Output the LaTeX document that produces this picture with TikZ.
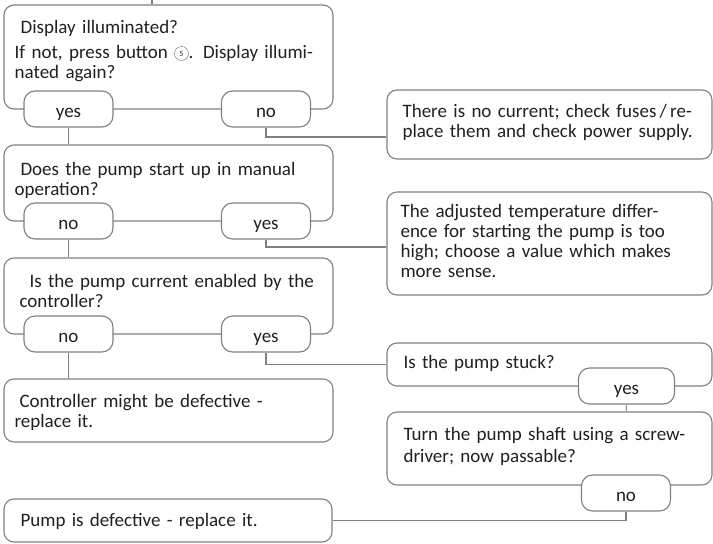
\documentclass[tikz,border=0pt]{standalone}
\usepackage{fontspec}
\setmainfont{Carlito}
\usepackage{xcolor}
\definecolor{linegray}{RGB}{128,128,128}
\definecolor{textblack}{RGB}{35,31,32}
\newcommand{\bodyfont}{\fontsize{19}{20}\selectfont}
\newcommand{\circnum}[1]{\tikz[baseline={([yshift=-2pt]cn.base)}]\node[circle,draw=linegray,line width=0.5pt,inner sep=0pt,minimum size=14pt,font=\fontsize{8}{8}\selectfont] (cn) {#1};}

\begin{document}
\begin{tikzpicture}[
  x=1pt, y=-1pt, line width=1.1pt, text=textblack,
  box/.style={draw=linegray,rounded corners=10pt,minimum width=329pt,inner sep=0pt},
  rbox/.style={box,minimum width=325pt},
  btn/.style={draw=linegray,fill=white,rounded corners=11pt,minimum width=89pt,minimum height=36pt,inner sep=0pt,text height=16pt,text depth=0pt,font=\bodyfont},
  txt/.style={anchor=base west,inner sep=0pt,text width=315pt,align=left,font=\bodyfont},
  wire/.style={draw=linegray}
]
  \useasboundingbox (0,0) rectangle (713,544);
  % boxes, left column
  \node[box,minimum height=104pt] (q1) at (168.5,57) {};
  \node[box,minimum height=76pt] (q2) at (168.5,183) {};
  \node[box,minimum height=76pt] (q3) at (168.5,296) {};
  \node[box,minimum height=63pt] (ctrl) at (168.5,410.5) {};
  \node[box,minimum height=43pt,minimum width=328pt] (pump) at (168,520.5) {};
  % boxes, right column
  \node[rbox,minimum height=69pt] (nocur) at (549.5,124.5) {};
  \node[rbox,minimum height=103pt] (tdiff) at (549.5,243.5) {};
  \node[rbox,minimum height=43pt] (stuck) at (549.5,364.5) {};
  \node[rbox,minimum height=73pt] (shaft) at (549.5,448.5) {};
  % texts
  \node[txt] (q1t) at (14.5,33) {\hspace*{6pt}Display illuminated?\\[5pt]
    \makebox[310pt][s]{If not, press button \circnum{5}. Display illumi-}\\nated again?};
  \node[txt] (q2t) at (14,175) {\hspace*{6pt}\makebox[295pt][s]{Does the pump start up in manual}\\operation?};
  \node[txt] (q3t) at (19,287) {\hspace*{10pt}Is the pump current enabled by the\\controller?};
  \node[txt] (ctrlt) at (14,407) {\hspace*{5pt}Controller might be defective -\\replace it.};
  \node[txt] (pumpt) at (20,526) {Pump is defective - replace it.};
  \node[txt] (nocurt) at (402,117) {\makebox[305pt][s]{There is no current; check fuses\,/\,re-}\\place them and check power supply.};
  \node[txt] (tdifft) at (400,217) {The adjusted temperature differ-\\ence for starting the pump is too\\high; choose a value which makes\\more sense.};
  \node[txt] (stuckt) at (403,368) {Is the pump stuck?};
  \node[txt] (shaftt) at (403,440) {\makebox[292pt][s]{Turn the pump shaft using a screw-}\\[2pt]driver; now passable?};
  % answer buttons
  \node[btn] (q1yes) at (68.5,109) {yes};
  \node[btn] (q1no) at (266,109) {no};
  \node[btn] (q2no) at (68.5,221) {no};
  \node[btn] (q2yes) at (266,221) {yes};
  \node[btn] (q3no) at (68.5,334) {no};
  \node[btn] (q3yes) at (266,334) {yes};
  \node[btn,minimum width=96pt] (stuckyes) at (626.5,386) {yes};
  \node[btn] (shaftno) at (626,493) {no};
  % connectors
  \coordinate (entry) at (152,0);
  \draw[wire] (entry) -- (entry |- q1.north);
  \draw[wire] (q1yes.south) -- (q1yes.south |- q2.north);
  \draw[wire] (q1no.south) |- ([yshift=-12.5pt]nocur.west);
  \draw[wire] (q2no.south) -- (q2no.south |- q3.north);
  \draw[wire] (q2yes.south) |- ([yshift=-3.5pt]tdiff.west);
  \draw[wire] (q3no.south) -- (q3no.south |- ctrl.north);
  \draw[wire] (q3yes.south) |- (stuck.west);
  \draw[wire] (stuckyes.south) -- (stuckyes.south |- shaft.north);
  \draw[wire] (shaftno.south) |- (pump.east);
\end{tikzpicture}
\end{document}
